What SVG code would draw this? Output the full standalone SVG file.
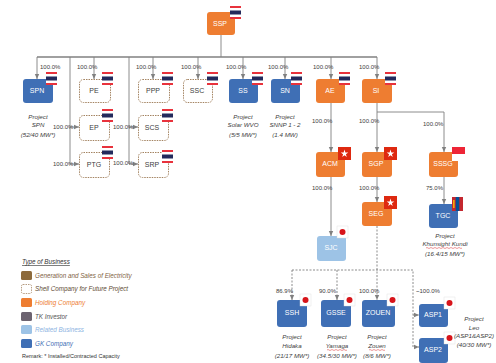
<svg xmlns="http://www.w3.org/2000/svg" width="496" height="363" viewBox="0 0 496 363">
<style>
text{font-family:"Liberation Sans Narrow","Liberation Sans",Arial,sans-serif}
.bl{fill:#3F6FB5}
.or{fill:#EE7D31}
.lb{fill:#9DC3E6}
.sh{fill:#fff;stroke:#A48462;stroke-width:1;stroke-dasharray:1.5 1}
.nt{fill:#fff;font-size:7px;text-anchor:middle}
.st{fill:#404040;font-size:7px;text-anchor:middle}
.pc{fill:#404040;font-size:6px}
.pj{fill:#404040;font-size:6.2px;font-style:italic;text-anchor:middle}
.ln{fill:none;stroke:#808080;stroke-width:0.9}
.dl{fill:none;stroke:#808080;stroke-width:0.9;stroke-dasharray:2 1.5}
.lg{font-size:6.3px;font-style:italic}
.wv{fill:none;stroke:#E05050;stroke-width:0.6}
</style>
<defs>
<marker id="ar" markerWidth="6" markerHeight="6" refX="5" refY="3" orient="auto" markerUnits="userSpaceOnUse">
<path d="M0,0.8 L5,3 L0,5.2 Z" fill="#808080"/>
</marker>
<g id="th">
<rect x="0" y="0" width="11" height="13" fill="#fff"/>
<rect x="0" y="0" width="11" height="2" fill="#E8323C"/>
<rect x="0" y="4.5" width="11" height="4" fill="#232A5C"/>
<rect x="0" y="11" width="11" height="2" fill="#E8323C"/>
</g>
<g id="hk">
<rect x="0" y="0" width="13" height="13" fill="#DE2910"/>
<polygon points="6.5,2.5 7.4,5.4 10.3,5.4 7.9,7.2 8.8,10 6.5,8.3 4.2,10 5.1,7.2 2.7,5.4 5.6,5.4" fill="#fff"/>
</g>
<g id="jp">
<rect x="0" y="0" width="11" height="12" fill="#fff" stroke="#ddd" stroke-width="0.4"/>
<circle cx="5.5" cy="6" r="3" fill="#D7141A"/>
</g>
</defs>

<g id="connectors">
<path class="ln" d="M221,35 V57" />
<path d="M37,57 H377" fill="none" stroke="#808080" stroke-width="1.6"/>
<path class="ln" d="M37,57 V79" marker-end="url(#ar)"/>
<path class="ln" d="M94,57 V79" marker-end="url(#ar)"/>
<path class="ln" d="M153,57 V79" marker-end="url(#ar)"/>
<path class="ln" d="M198,57 V79" marker-end="url(#ar)"/>
<path class="ln" d="M243,57 V79" marker-end="url(#ar)"/>
<path class="ln" d="M285,57 V79" marker-end="url(#ar)"/>
<path class="ln" d="M331,57 V79" marker-end="url(#ar)"/>
<path class="ln" d="M377,57 V79" marker-end="url(#ar)"/>
<path class="ln" d="M70,57 V164 H79" marker-end="url(#ar)"/>
<path class="ln" d="M70,127 H79" marker-end="url(#ar)"/>
<path class="ln" d="M129,57 V164 H138" marker-end="url(#ar)"/>
<path class="ln" d="M129,127 H138" marker-end="url(#ar)"/>
<path class="ln" d="M331,103 V152" marker-end="url(#ar)"/>
<path class="ln" d="M377,103 V152" marker-end="url(#ar)"/>
<path class="ln" d="M377,112 H444 V152" marker-end="url(#ar)"/>
<path class="ln" d="M331,177 V236" marker-end="url(#ar)"/>
<path class="ln" d="M377,177 V202" marker-end="url(#ar)"/>
<path class="ln" d="M444,177 V204" marker-end="url(#ar)"/>
<path class="dl" d="M377,226 V300" marker-end="url(#ar)"/>
<path class="dl" d="M292,270 H413 V347 H419" marker-end="url(#ar)"/>
<path class="dl" d="M292,270 V300" marker-end="url(#ar)"/>
<path class="dl" d="M337,270 V300" marker-end="url(#ar)"/>
<path class="dl" d="M413,315 H419" marker-end="url(#ar)"/>
</g>

<g id="percent">
<text class="pc" x="40" y="69">100.0%</text>
<text class="pc" x="77" y="69">100.0%</text>
<text class="pc" x="136" y="69">100.0%</text>
<text class="pc" x="181" y="69">100.0%</text>
<text class="pc" x="226" y="69">100.0%</text>
<text class="pc" x="268" y="69">100.0%</text>
<text class="pc" x="313" y="69">100.0%</text>
<text class="pc" x="359" y="69">100.0%</text>
<text class="pc" x="53" y="129">100.0%</text>
<text class="pc" x="53" y="166">100.0%</text>
<text class="pc" x="113" y="129">100.0%</text>
<text class="pc" x="113" y="165">100.0%</text>
<text class="pc" x="312" y="123">100.0%</text>
<text class="pc" x="359" y="123">100.0%</text>
<text class="pc" x="423" y="126">100.0%</text>
<text class="pc" x="312" y="190">100.0%</text>
<text class="pc" x="359" y="190">100.0%</text>
<text class="pc" x="426" y="190">75.0%</text>
<text class="pc" x="276" y="293">86.9%</text>
<text class="pc" x="319" y="293">90.0%</text>
<text class="pc" x="359" y="293">100.0%</text>
<text class="pc" x="416" y="293">~100.0%</text>
</g>

<g id="SSP"><rect class="or" x="207" y="12" width="28" height="23" rx="3"/><use href="#th" x="230" y="6"/><text class="nt" x="220" y="26">SSP</text></g>
<g id="SPN"><rect class="bl" x="23" y="79" width="30" height="24" rx="3"/><use href="#th" x="46" y="72"/><text class="nt" x="37" y="93">SPN</text></g>
<g id="PE"><rect class="sh" x="79.5" y="79.5" width="31" height="23" rx="4"/><use href="#th" x="102" y="72"/><text class="st" x="94" y="93">PE</text></g>
<g id="PPP"><rect class="sh" x="138.5" y="79.5" width="31" height="23" rx="4"/><use href="#th" x="162" y="72"/><text class="st" x="153" y="93">PPP</text></g>
<g id="SSC"><rect class="sh" x="183.5" y="79.5" width="29" height="23" rx="4"/><use href="#th" x="207" y="72"/><text class="st" x="197" y="93">SSC</text></g>
<g id="SS"><rect class="bl" x="229" y="79" width="29" height="24" rx="3"/><use href="#th" x="252" y="72"/><text class="nt" x="243" y="93">SS</text></g>
<g id="SN"><rect class="bl" x="271" y="79" width="29" height="24" rx="3"/><use href="#th" x="291" y="72"/><text class="nt" x="285" y="93">SN</text></g>
<g id="AE"><rect class="or" x="316" y="79" width="29" height="24" rx="3"/><use href="#th" x="339" y="72"/><text class="nt" x="330" y="93">AE</text></g>
<g id="SI"><rect class="or" x="362" y="79" width="30" height="24" rx="3"/><use href="#th" x="385" y="72"/><text class="nt" x="376" y="93">SI</text></g>
<g id="EP"><rect class="sh" x="79.5" y="115.5" width="30" height="25" rx="4"/><use href="#th" x="102" y="109"/><text class="st" x="94" y="130">EP</text></g>
<g id="PTG"><rect class="sh" x="79.5" y="152.5" width="30" height="25" rx="4"/><use href="#th" x="102" y="146"/><text class="st" x="94" y="167">PTG</text></g>
<g id="SCS"><rect class="sh" x="138.5" y="115.5" width="30" height="25" rx="4"/><use href="#th" x="162" y="109"/><text class="st" x="152" y="130">SCS</text></g>
<g id="SRP"><rect class="sh" x="138.5" y="152.5" width="30" height="25" rx="4"/><use href="#th" x="162" y="150"/><text class="st" x="152" y="167">SRP</text></g>
<g id="ACM"><rect class="or" x="316" y="152" width="29" height="25" rx="3"/><use href="#hk" x="338" y="147"/><text class="nt" x="330" y="166">ACM</text></g>
<g id="SGP"><rect class="or" x="362" y="152" width="30" height="25" rx="3"/><use href="#hk" x="384" y="147"/><text class="nt" x="376" y="166">SGP</text></g>
<g id="SSSG"><rect class="or" x="429" y="152" width="29" height="25" rx="3"/><rect x="452" y="147" width="13" height="14" fill="#fff"/><rect x="452" y="147" width="13" height="7" fill="#EE2536"/><text class="nt" x="443" y="166">SSSG</text></g>
<g id="SEG"><rect class="or" x="362" y="202" width="30" height="24" rx="3"/><use href="#hk" x="384" y="196"/><text class="nt" x="376" y="216">SEG</text></g>
<g id="TGC"><rect class="bl" x="429" y="204" width="29" height="24" rx="3"/><rect x="452" y="197" width="11" height="14" fill="#C4272F"/><rect x="455.7" y="197" width="3.6" height="14" fill="#015197"/><rect x="453.2" y="200" width="1.3" height="8" fill="#F9CF02"/><text class="nt" x="443" y="218">TGC</text></g>
<g id="SJC"><rect class="lb" x="317" y="236" width="29" height="25" rx="3"/><use href="#jp" x="337" y="226"/><text class="nt" x="331" y="250">SJC</text></g>
<g id="SSH"><rect class="bl" x="277" y="300" width="30" height="27" rx="3"/><use href="#jp" x="300" y="294"/><text class="nt" x="292" y="315">SSH</text></g>
<g id="GSSE"><rect class="bl" x="321" y="300" width="30" height="27" rx="3"/><use href="#jp" x="344" y="294"/><text class="nt" x="336" y="315">GSSE</text></g>
<g id="ZOUEN"><rect class="bl" x="362" y="300" width="33" height="27" rx="3"/><use href="#jp" x="387" y="294"/><text class="nt" x="378" y="315">ZOUEN</text></g>
<g id="ASP1"><rect class="bl" x="419" y="304" width="29" height="23" rx="3"/><use href="#jp" x="444" y="297"/><text class="nt" x="433" y="317">ASP1</text></g>
<g id="ASP2"><rect class="bl" x="419" y="338" width="29" height="25" rx="3"/><use href="#jp" x="444" y="332"/><text class="nt" x="433" y="352">ASP2</text></g>

<g id="projects">
<text class="pj" x="38" y="119">Project</text><text class="pj" x="38" y="127">SPN</text><text class="pj" x="38" y="137">(52/40 MW*)</text>
<text class="pj" x="243" y="119">Project</text><text class="pj" x="243" y="127">Solar WVO</text><text class="pj" x="243" y="137">(5/5 MW*)</text>
<text class="pj" x="285" y="119">Project</text><text class="pj" x="285" y="127">SNNP 1 - 2</text><text class="pj" x="285" y="137">(1.4 MW)</text>
<text class="pj" x="445" y="238">Project</text><text class="pj" x="445" y="246">Khunsight Kundi</text><text class="pj" x="445" y="256">(16.4/15 MW*)</text>
<path class="wv" d="M426,248 q1,-1 2,0 t2,0 t2,0 t2,0 t2,0 t2,0 t2,0 t2,0 t2,0 t2,0 t2,0 t2,0 t2,0 t2,0 t2,0 t2,0 t2,0 t2,0"/>
<text class="pj" x="292" y="339">Project</text><text class="pj" x="292" y="348">Hidaka</text><text class="pj" x="292" y="358">(21/17 MW*)</text>
<text class="pj" x="337" y="339">Project</text><text class="pj" x="337" y="348">Yamaga</text><text class="pj" x="337" y="358">(34.5/30 MW*)</text>
<path class="wv" d="M327,350 q1,-1 2,0 t2,0 t2,0 t2,0 t2,0 t2,0 t2,0 t2,0 t2,0 t2,0"/>
<text class="pj" x="377" y="339">Project</text><text class="pj" x="377" y="348">Zouen</text><text class="pj" x="377" y="358">(8/6 MW*)</text>
<path class="wv" d="M369,350 q1,-1 2,0 t2,0 t2,0 t2,0 t2,0 t2,0 t2,0 t2,0"/>
<text class="pj" x="474" y="321" font-size="5.8px">Project</text><text class="pj" x="474" y="330" font-size="5.8px">Leo</text><text class="pj" x="474" y="338" font-size="5.8px">(ASP1&amp;ASP2)</text><text class="pj" x="474" y="347" font-size="5.8px">(40/30 MW*)</text>
</g>

<g id="legend">
<text x="22" y="264" class="lg" fill="#333" text-decoration="underline">Type of Business</text>
<rect x="21" y="271" width="11" height="9" rx="1.5" fill="#8C6A3C"/>
<text x="35" y="277.5" class="lg" fill="#7F6444">Generation and Sales of Electricity</text>
<rect x="21.5" y="284.5" width="10" height="9" rx="1.5" fill="#fff" stroke="#A48462" stroke-width="0.8" stroke-dasharray="1.5 1"/>
<text x="35" y="291" class="lg" fill="#5E4A33">Shell Company for Future Project</text>
<rect x="21" y="298" width="11" height="9" rx="1.5" fill="#EE7D31"/>
<text x="35" y="304.5" class="lg" fill="#EE7D31">Holding Company</text>
<rect x="21" y="312" width="11" height="9" rx="1.5" fill="#6C6370"/>
<text x="35" y="318.5" class="lg" fill="#555">TK Investor</text>
<rect x="21" y="325" width="11" height="9" rx="1.5" fill="#9DC3E6"/>
<text x="35" y="331.5" class="lg" fill="#8DB4E2">Related Business</text>
<rect x="21" y="339" width="11" height="9" rx="1.5" fill="#3F6FB5"/>
<text x="35" y="345.5" class="lg" fill="#3F6FB5">GK Company</text>
<text x="22" y="358" font-size="5.5px" fill="#333">Remark: * Installed/Contracted Capacity</text>
</g>
</svg>
